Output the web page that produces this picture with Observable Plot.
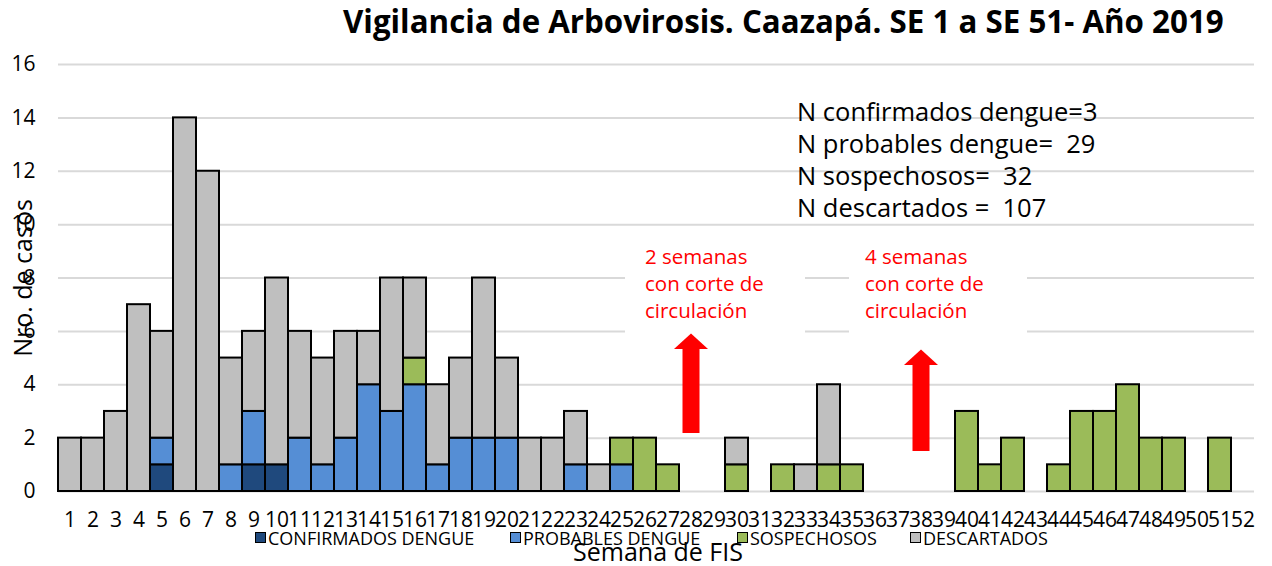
<!DOCTYPE html>
<html>
<head>
<meta charset="utf-8">
<script src="https://cdn.jsdelivr.net/npm/d3@7"></script>
<script src="https://cdn.jsdelivr.net/npm/@observablehq/plot@0.6"></script>
<style>
  body { margin: 0; background: #fff; font-family: "Open Sans", sans-serif; }
  #wrap { position: relative; width: 1272px; height: 566px; overflow: hidden; }
  #chart { position: absolute; left: 0; top: 0; }
  .t { position: absolute; white-space: pre; line-height: 1; color: #000; }
  .title { font-weight: bold; font-size: 31.3px; }
  .n { font-size: 25.5px; }
  .red { font-size: 20.5px; color: #ff0000; }
  .leg { font-size: 18px; }
  .sw { position: absolute; width: 9px; height: 9px; border: 1.5px solid #000; }
</style>
</head>
<body>
<div id="wrap">
  <div id="chart"></div>
  <div class="t title" style="left:343px; top:6px;">Vigilancia de Arbovirosis. Caazapá. SE 1 a SE 51- Año 2019</div>
  <div class="t n" style="left:797px; top:99px;">N confirmados dengue=3</div>
  <div class="t n" style="left:797px; top:131px;">N probables dengue=  29</div>
  <div class="t n" style="left:797px; top:163px;">N sospechosos=  32</div>
  <div class="t n" style="left:797px; top:195px;">N descartados =  107</div>
  <div class="t red" style="left:645px; top:246px;">2 semanas</div>
  <div class="t red" style="left:645px; top:273px;">con corte de</div>
  <div class="t red" style="left:645px; top:300px;">circulación</div>
  <div class="t red" style="left:865px; top:246px;">4 semanas</div>
  <div class="t red" style="left:865px; top:273px;">con corte de</div>
  <div class="t red" style="left:865px; top:300px;">circulación</div>
  <div id="legend"></div>
  <div class="t" style="left:658px; top:539px; font-size:25px; transform:translateX(-50%);">Semana de FIS</div>
  <div class="t" style="left:21.5px; top:278px; font-size:25px; transform:translate(-50%,-50%) rotate(-90deg);">Nro. de casos</div>
</div>
<script>
// ---- data ----
const weeks = [1,2,3,4,5,6,7,8,9,10,11,12,13,14,15,16,17,18,19,20,21,22,23,24,25,26,
               27,28,29,30,31,32,33,34,35,36,37,38,39,40,41,42,43,44,45,46,47,48,49,50,51,52];
const seriesNames = ["CONFIRMADOS DENGUE", "PROBABLES DENGUE", "SOSPECHOSOS", "DESCARTADOS"];
const seriesColors = ["#1F497D", "#558ED5", "#9BBB59", "#BFBFBF"];
const confirmados = [0,0,0,0,1,0,0,0,1,1, 0,0,0,0,0,0,0,0,0,0, 0,0,0,0,0,0,0,0,0,0,
                     0,0,0,0,0,0,0,0,0,0, 0,0,0,0,0,0,0,0,0,0, 0,0];
const probables   = [0,0,0,0,1,0,0,1,2,0, 2,1,2,4,3,4,1,2,2,2, 0,0,1,0,1,0,0,0,0,0,
                     0,0,0,0,0,0,0,0,0,0, 0,0,0,0,0,0,0,0,0,0, 0,0];
const sospechosos = [0,0,0,0,0,0,0,0,0,0, 0,0,0,0,0,1,0,0,0,0, 0,0,0,0,1,2,1,0,0,1,
                     0,1,0,1,1,0,0,0,0,3, 1,2,0,1,3,3,4,2,2,0, 2,0];
const descartados = [2,2,3,7,4,14,12,4,3,7, 4,4,4,2,5,3,3,3,6,3, 2,2,2,1,0,0,0,0,0,1,
                     0,0,1,3,0,0,0,0,0,0, 0,0,0,0,0,0,0,0,0,0, 0,0];
const yTicks = [0,2,4,6,8,10,12,14,16];
// annotation arrows (weeks without circulation)
const arrowWeeks = [28, 38];
const arrowBottoms = [2.17, 1.5];
const arrowHeadBases = [5.36, 4.76];
const arrowTips = [5.92, 5.32];

// ---- build table ----
const seriesValues = [confirmados, probables, sospechosos, descartados];
const rows = [];
seriesValues.forEach((vals, si) => vals.forEach((v, i) => {
  if (v > 0) rows.push({week: weeks[i], series: seriesNames[si], value: v});
}));
const arrows = arrowWeeks.map((w, i) => ({week: w, bottom: arrowBottoms[i], base: arrowHeadBases[i], tip: arrowTips[i]}));

const headSymbol = {
  draw(ctx) { ctx.moveTo(0, 0); ctx.lineTo(17, 15.5); ctx.lineTo(-17, 15.5); ctx.closePath(); }
};

// white backgrounds of the annotation text boxes (hide gridlines)
function textBoxes() {
  const g = d3.create("svg:g").attr("fill", "#fff");
  g.append("rect").attr("x", 625).attr("y", 238).attr("width", 180).attr("height", 100);
  g.append("rect").attr("x", 849).attr("y", 238).attr("width", 178).attr("height", 100);
  return g.node();
}

const chart = Plot.plot({
  width: 1272,
  height: 566,
  marginTop: 64,
  marginBottom: 75,
  marginLeft: 58,
  marginRight: 18,
  style: {fontFamily: '"Open Sans", sans-serif', fontSize: "21px", color: "#000", background: "transparent"},
  x: {type: "band", domain: weeks, padding: 0, label: null},
  y: {domain: [0, 16], label: null},
  color: {domain: seriesNames, range: seriesColors},
  marks: [
    Plot.gridY({ticks: yTicks.slice(1), stroke: "#d9d9d9", strokeOpacity: 1, strokeWidth: 2}),
    Plot.ruleY([0], {stroke: "#d9d9d9", strokeWidth: 2}),
    textBoxes,
    Plot.barY(rows, {x: "week", y: "value", fill: "series", z: "series", order: seriesNames,
                     stroke: "#000", strokeWidth: 2}),
    Plot.ruleX(arrows, {x: "week", y1: "bottom", y2: "base", stroke: "#ff0000", strokeWidth: 17}),
    Plot.dot(arrows, {x: "week", y: "tip", symbol: headSymbol, fill: "#ff0000", stroke: "none", r: 10}),
    Plot.axisY({ticks: yTicks, tickSize: 0, tickPadding: 23, label: null, fontSize: 21}),
    Plot.axisX({tickSize: 0, tickPadding: 21, label: null, fontSize: 21})
  ]
});
document.getElementById("chart").appendChild(chart);

// ---- legend ----
const legendLefts = [255, 510, 737, 910];
const legend = document.getElementById("legend");
seriesNames.forEach((name, i) => {
  const sw = document.createElement("div");
  sw.className = "sw";
  sw.style.left = legendLefts[i] + "px";
  sw.style.top = "532px";
  sw.style.background = seriesColors[i];
  legend.appendChild(sw);
  const tx = document.createElement("div");
  tx.className = "t leg";
  tx.style.left = (legendLefts[i] + 13) + "px";
  tx.style.top = "529px";
  tx.textContent = name;
  legend.appendChild(tx);
});
</script>
</body>
</html>
